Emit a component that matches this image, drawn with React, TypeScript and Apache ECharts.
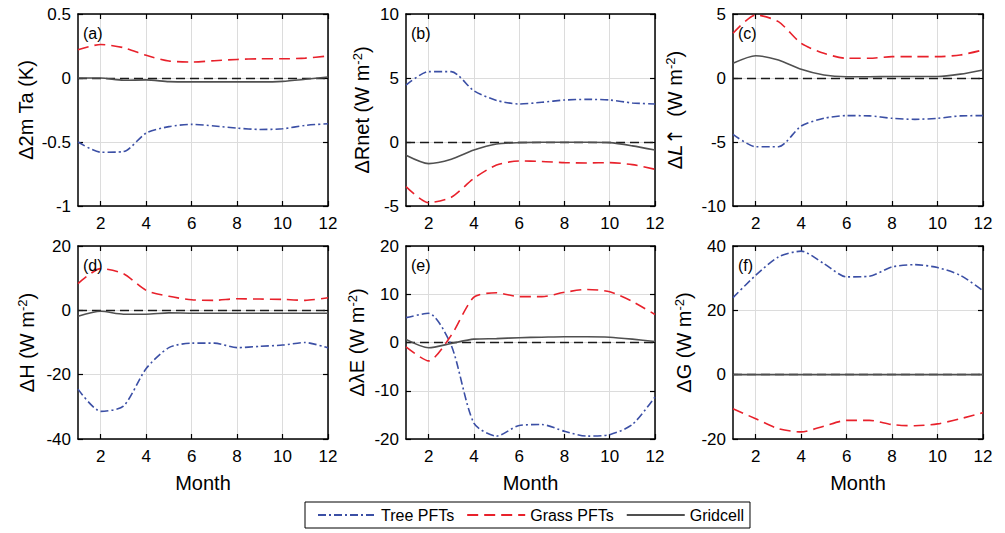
import React, { useEffect, useRef } from 'react';
import * as echarts from 'echarts';

const months = [1, 2, 3, 4, 5, 6, 7, 8, 9, 10, 11, 12];
const xTicks = [2, 4, 6, 8, 10, 12];

// (a) Δ2m Ta (K)
const taTree = [-0.5, -0.58, -0.575, -0.43, -0.38, -0.362, -0.375, -0.392, -0.402, -0.397, -0.37, -0.357];
const taGrass = [0.22, 0.262, 0.237, 0.177, 0.133, 0.125, 0.135, 0.145, 0.15, 0.15, 0.155, 0.172];
const taGrid = [0, 0, -0.018, -0.015, -0.028, -0.03, -0.03, -0.03, -0.03, -0.026, -0.01, 0.008];

// (b) ΔRnet
const rnTree = [4.45, 5.5, 5.5, 4.0, 3.25, 2.97, 3.1, 3.28, 3.33, 3.28, 3.05, 2.97];
const rnGrass = [-3.49, -4.74, -4.32, -2.84, -1.8, -1.48, -1.52, -1.61, -1.64, -1.61, -1.77, -2.13];
const rnGrid = [-1.04, -1.69, -1.35, -0.63, -0.16, -0.05, -0.02, -0.02, -0.02, -0.05, -0.3, -0.63];

// (c) ΔL↑
const luTree = [-4.4, -5.37, -5.37, -3.75, -3.15, -2.94, -2.96, -3.15, -3.23, -3.15, -2.96, -2.94];
const luGrass = [3.49, 4.92, 4.4, 2.71, 1.93, 1.54, 1.54, 1.67, 1.67, 1.67, 1.8, 2.19];
const luGrid = [1.15, 1.74, 1.41, 0.68, 0.23, 0.1, 0.1, 0.12, 0.12, 0.12, 0.3, 0.63];

// (d) ΔH
const hTree = [-24.5, -31.4, -29.8, -18.1, -11.6, -10.2, -10.2, -11.6, -11.2, -10.8, -10.0, -11.7];
const hGrass = [8.3, 12.96, 11.4, 6.2, 4.35, 3.3, 3.1, 3.6, 3.5, 3.4, 3.1, 3.9];
const hGrid = [-1.85, -0.3, -1.2, -1.2, -0.8, -0.9, -0.9, -0.9, -0.9, -0.9, -0.9, -0.9];

// (e) ΔλE
const leTree = [5.15, 6.05, -0.6, -16.7, -19.4, -17.2, -17.0, -18.4, -19.4, -19.1, -17.0, -11.3];
const leGrass = [-0.9, -3.8, 1.5, 9.4, 10.3, 9.5, 9.5, 10.4, 11.0, 10.5, 8.5, 5.8];
const leGrid = [0.65, -1.1, -0.2, 0.7, 0.8, 1.0, 1.1, 1.2, 1.2, 1.1, 0.7, 0.2];

// (f) ΔG
const gTree = [23.95, 30.9, 36.6, 38.4, 34.5, 30.4, 30.6, 33.5, 34.2, 33.3, 30.9, 26.1];
const gGrass = [-10.6, -13.7, -16.8, -17.8, -16.0, -14.2, -14.2, -15.5, -15.9, -15.3, -13.7, -11.8];
const gGrid = [0, 0, 0, 0, 0, 0, 0, 0, 0, 0, 0, 0];

const seriesNames = ['Tree PFTs', 'Grass PFTs', 'Gridcell'];
const panelLetters = ['(a)', '(b)', '(c)', '(d)', '(e)', '(f)'];
const yNames = [
  'Δ2m Ta (K)',
  'ΔRnet (W m{sup|-2})',
  'Δ{it|L}{arr|↑}  (W m{sup|-2})',
  'ΔH (W m{sup|-2})',
  'ΔλE (W m{sup|-2})',
  'ΔG (W m{sup|-2})',
];
const yMin = [-1, -5, -10, -40, -20, -20];
const yMax = [0.5, 10, 5, 20, 20, 40];
const yInterval = [0.5, 5, 5, 20, 10, 20];
const panelData = [
  [taTree, taGrass, taGrid],
  [rnTree, rnGrass, rnGrid],
  [luTree, luGrass, luGrid],
  [hTree, hGrass, hGrid],
  [leTree, leGrass, leGrid],
  [gTree, gGrass, gGrid],
];

const FONT = 'Liberation Sans, Arial, Helvetica, sans-serif';
const colors = ['#3b4fa5', '#e8212b', '#505050'];
const dashes: any[] = [[8, 3, 2, 3], [11, 6], 'solid'];

const lefts = [78, 406, 733];
const widths = [250, 249, 250];
const tops = [14, 246];
const heights = [192, 193];
const nameGaps = [42, 33, 47, 40, 38, 38];

export default function App() {
  const ref = useRef<HTMLDivElement>(null);
  useEffect(() => {
    document.body.style.margin = '0';
    if (!ref.current) return;
    const chart = echarts.init(ref.current, undefined, { renderer: 'svg' });
    const grids: any[] = [];
    const xAxes: any[] = [];
    const yAxes: any[] = [];
    const series: any[] = [];
    const graphics: any[] = [];
    for (let i = 0; i < 6; i++) {
      const r = Math.floor(i / 3);
      const c = i % 3;
      grids.push({ left: lefts[c], top: tops[r], width: widths[c], height: heights[r] });
      const axisLine = { show: true, onZero: false, lineStyle: { color: '#000', width: 1.5 } };
      const tickStyle = { color: '#000', width: 1.2 };
      xAxes.push({
        type: 'value', gridIndex: i, min: 1, max: 12, position: 'bottom',
        axisLine,
        axisTick: { show: true, inside: true, length: 5, customValues: xTicks, lineStyle: tickStyle },
        axisLabel: { show: true, customValues: xTicks, color: '#000', fontSize: 17, fontFamily: FONT, margin: 9 },
        splitLine: { show: true, lineStyle: { color: '#dcdcdc', width: 1 } },
        name: r === 1 ? 'Month' : '',
        nameLocation: 'middle',
        nameGap: 34,
        nameTextStyle: { color: '#000', fontSize: 20, fontFamily: FONT },
      });
      xAxes.push({
        type: 'value', gridIndex: i, min: 1, max: 12, position: 'top',
        axisLine,
        axisTick: { show: true, inside: true, length: 5, customValues: xTicks, lineStyle: tickStyle },
        axisLabel: { show: false },
        splitLine: { show: false },
      });
      yAxes.push({
        type: 'value', gridIndex: i, min: yMin[i], max: yMax[i], interval: yInterval[i], position: 'left',
        axisLine,
        axisTick: { show: true, inside: true, length: 5, lineStyle: tickStyle },
        axisLabel: { color: '#000', fontSize: 17, fontFamily: FONT, margin: 7 },
        splitLine: { show: true, lineStyle: { color: '#dcdcdc', width: 1 } },
        name: yNames[i],
        nameLocation: 'middle',
        nameGap: nameGaps[i],
        nameTextStyle: {
          color: '#000', fontSize: 20, fontFamily: FONT,
          rich: {
            sup: { fontSize: 13, color: '#000', fontFamily: FONT, verticalAlign: 'top', padding: [0, 0, 9, 0] },
            it: { fontSize: 20, color: '#000', fontFamily: FONT, fontStyle: 'italic' },
            arr: { fontSize: 20, color: '#000', fontFamily: 'DejaVu Sans' },
          },
        },
      });
      yAxes.push({
        type: 'value', gridIndex: i, min: yMin[i], max: yMax[i], interval: yInterval[i], position: 'right',
        axisLine,
        axisTick: { show: true, inside: true, length: 5, lineStyle: tickStyle },
        axisLabel: { show: false },
        splitLine: { show: false },
      });
      for (let s = 0; s < 3; s++) {
        const ser: any = {
          type: 'line',
          name: seriesNames[s],
          xAxisIndex: 2 * i,
          yAxisIndex: 2 * i,
          data: months.map((m, k) => [m, panelData[i][s][k]]),
          symbol: 'none',
          smooth: 0.25,
          lineStyle: { color: colors[s], width: 1.6, type: dashes[s] },
          itemStyle: { color: colors[s] },
          z: 3 + (s === 2 ? 1 : 0),
        };
        if (s === 0) {
          ser.markLine = {
            silent: true,
            symbol: 'none',
            label: { show: false },
            lineStyle: { color: '#1a1a1a', type: [9, 5], width: 1.3 },
            data: [{ yAxis: 0 }],
            z: 3,
          };
        }
        series.push(ser);
      }
      graphics.push({
        type: 'text',
        left: lefts[c] + 5,
        top: tops[r] + 11,
        style: { text: panelLetters[i], fontSize: 16, fontFamily: FONT, fill: '#000' },
        z: 10,
      });
    }
    chart.setOption({
      animation: false,
      backgroundColor: '#fff',
      grid: grids,
      xAxis: xAxes,
      yAxis: yAxes,
      series,
      graphic: graphics,
      legend: {
        data: seriesNames,
        left: 305,
        top: 502,
        orient: 'horizontal',
        borderColor: '#000',
        borderWidth: 1,
        padding: [5, 6, 5, 12],
        itemWidth: 58,
        itemHeight: 10,
        itemGap: 12,
        itemStyle: { color: 'rgba(0,0,0,0)', borderWidth: 0, opacity: 0 },
        textStyle: { color: '#000', fontSize: 16, fontFamily: FONT },
      },
    });
    return () => chart.dispose();
  }, []);
  return <div ref={ref} style={{ width: 1005, height: 533 }} />;
}
